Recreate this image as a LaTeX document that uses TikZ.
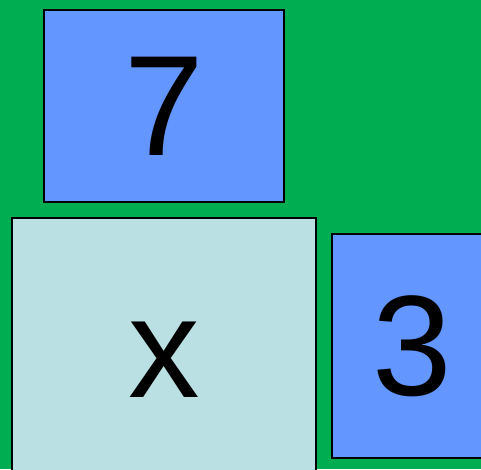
\documentclass[tikz,border=0pt]{standalone}
\usepackage{fontspec}
\setmainfont{Liberation Sans}
\definecolor{bggreen}{RGB}{0,173,80}
\definecolor{tileblue}{RGB}{100,150,255}
\definecolor{tilelight}{RGB}{187,224,227}
\tikzset{
  tile/.style={draw=black, line width=2pt, inner sep=0pt, anchor=center,
    font=\fontsize{143}{143}\selectfont}
}
\begin{document}
\begin{tikzpicture}[x=1pt,y=-1pt]
\useasboundingbox (0,0) rectangle (481,469);
\clip (0,0) rectangle (481,469);
\fill[bggreen] (0,0) rectangle (481,469);
\node[tile, fill=tileblue, minimum width=240pt, minimum height=192pt] (box7) at (164,106) {7};
\node[tile, fill=tilelight, minimum width=304pt, minimum height=284pt] (boxx) at (164,360) {x};
\node[tile, fill=tileblue, minimum width=161pt, minimum height=224pt] (box3) at (412.5,346) {3};
\end{tikzpicture}
\end{document}
